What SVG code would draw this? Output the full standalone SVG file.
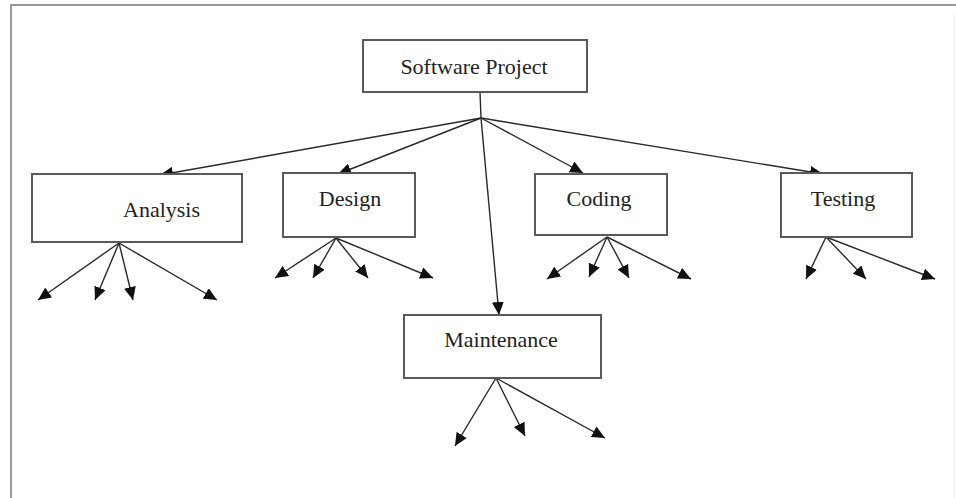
<svg xmlns="http://www.w3.org/2000/svg" width="956" height="498" viewBox="0 0 956 498">
<style>
.box{fill:#fff;stroke:#5a5a5a;stroke-width:2}
.lbl{font-family:"Liberation Serif","Times New Roman",serif;font-size:22px;fill:#222}
.ln{stroke:#2a2a2a;stroke-width:1.4;fill:none}
.arr{marker-end:url(#ah)}
</style>
<defs>
<marker id="ah" markerUnits="userSpaceOnUse" markerWidth="14" markerHeight="12" refX="13" refY="6" orient="auto">
<path d="M0,0 L13,6 L0,12 z" fill="#111"/>
</marker>
</defs>
<rect width="956" height="498" fill="#fff"/>
<g id="frame">
<path d="M11,498 L11,5 L956,5" fill="none" stroke="#777" stroke-width="1.5"/>
<line x1="954" y1="14" x2="954" y2="498" stroke="#eee" stroke-width="1"/>
</g>
<g id="connectors">
<line class="ln" x1="480" y1="92" x2="481" y2="118"/>
<line class="ln arr" x1="481" y1="118" x2="160" y2="175"/>
<line class="ln arr" x1="481" y1="118" x2="338" y2="174"/>
<line class="ln arr" x1="481" y1="118" x2="583" y2="173"/>
<line class="ln arr" x1="481" y1="118" x2="823" y2="174"/>
<line class="ln arr" x1="481" y1="118" x2="499" y2="315"/>
<line class="ln arr" x1="119" y1="243" x2="38" y2="300"/>
<line class="ln arr" x1="119" y1="243" x2="95" y2="300"/>
<line class="ln arr" x1="119" y1="243" x2="133" y2="300"/>
<line class="ln arr" x1="119" y1="243" x2="217" y2="300"/>
<line class="ln arr" x1="336" y1="238" x2="275" y2="278"/>
<line class="ln arr" x1="336" y1="238" x2="313" y2="278"/>
<line class="ln arr" x1="336" y1="238" x2="368" y2="278"/>
<line class="ln arr" x1="336" y1="238" x2="433" y2="278"/>
<line class="ln arr" x1="607" y1="237" x2="547" y2="279"/>
<line class="ln arr" x1="607" y1="237" x2="589" y2="277"/>
<line class="ln arr" x1="607" y1="237" x2="629" y2="278"/>
<line class="ln arr" x1="607" y1="237" x2="691" y2="279"/>
<line class="ln arr" x1="826" y1="237" x2="806" y2="279"/>
<line class="ln arr" x1="826" y1="237" x2="866" y2="279"/>
<line class="ln arr" x1="826" y1="237" x2="935" y2="279"/>
<line class="ln arr" x1="496" y1="378" x2="455" y2="446"/>
<line class="ln arr" x1="496" y1="378" x2="525" y2="436"/>
<line class="ln arr" x1="496" y1="378" x2="605" y2="438"/>
</g>
<g id="software-project">
<rect class="box" x="363" y="40" width="224" height="52"/>
<text class="lbl" x="474" y="74" text-anchor="middle">Software Project</text>
</g>
<g id="analysis">
<rect class="box" x="32" y="174" width="210" height="68"/>
<text class="lbl" x="123" y="217">Analysis</text>
</g>
<g id="design">
<rect class="box" x="283" y="173" width="132" height="64"/>
<text class="lbl" x="350" y="206" text-anchor="middle">Design</text>
</g>
<g id="coding">
<rect class="box" x="535" y="174" width="132" height="61"/>
<text class="lbl" x="599" y="206" text-anchor="middle">Coding</text>
</g>
<g id="testing">
<rect class="box" x="781" y="173" width="131" height="64"/>
<text class="lbl" x="843" y="206" text-anchor="middle">Testing</text>
</g>
<g id="maintenance">
<rect class="box" x="404" y="315" width="197" height="63"/>
<text class="lbl" x="501" y="347" text-anchor="middle">Maintenance</text>
</g>
</svg>
